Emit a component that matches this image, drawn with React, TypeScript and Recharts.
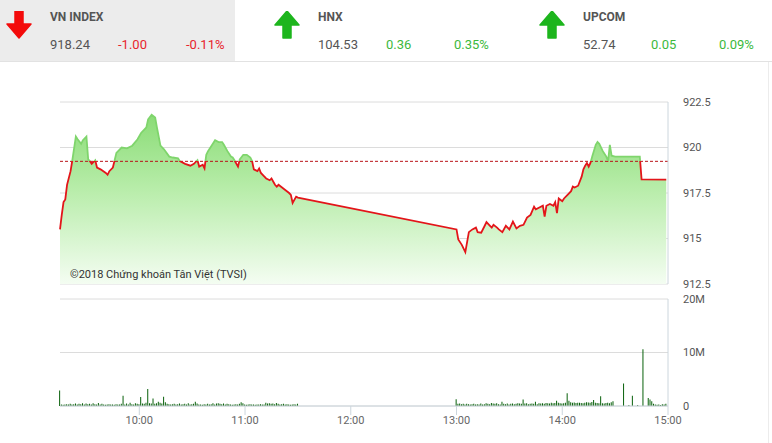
import React from "react";
import {
  Area,
  Bar,
  CartesianGrid,
  ComposedChart,
  Line,
  ReferenceLine,
  XAxis,
  YAxis,
} from "recharts";

// thời gian tính bằng phút kể từ 9:00
const priceMinutes = [
  15, 16, 17, 18, 19, 21, 22, 24, 25, 27, 28, 30, 31, 32, 33, 35, 36, 38, 41, 42, 43, 45, 46, 47, 50, 53, 56, 59, 61, 64,
  65, 67, 69, 70, 72, 74, 77, 79, 82, 83, 86, 89, 91, 93, 94, 96, 97, 98, 99, 101, 103, 105, 107, 108, 110, 112, 113, 114,
  116, 117, 119, 121, 123, 124, 125, 127, 128, 129, 131, 132, 134, 135, 137, 138, 139, 141, 143, 145, 146, 147, 149, 150,
  240, 241, 243, 245, 247, 249, 251, 252, 254, 256, 257, 259, 260, 261, 263, 264, 266, 268, 270, 272, 274, 276, 278, 280,
  282, 284, 285, 287, 289, 290, 291, 293, 295, 296, 297, 298, 300, 301, 303, 305, 306, 307, 309, 311, 312, 313, 314, 315,
  316, 317, 319, 320, 321, 323, 325, 326, 327, 328, 330, 344, 345, 359,
];

const priceValues = [
  915.5, 916.3, 917.0, 917.15, 917.95, 918.7, 919.3, 920.6, 920.45, 920.2, 920.4, 920.6, 919.35, 919.25, 919.1, 919.3,
  918.9, 918.8, 918.6, 918.5, 918.7, 918.9, 919.3, 919.7, 920.0, 919.95, 920.1, 920.45, 920.8, 921.1, 921.55, 921.8,
  921.65, 921.1, 920.1, 919.9, 919.5, 919.45, 919.4, 919.25, 919.1, 919.0, 919.1, 919.3, 918.95, 919.05, 918.85, 919.6,
  919.8, 920.1, 920.4, 920.3, 920.3, 920.15, 919.8, 919.5, 919.45, 919.3, 918.95, 919.35, 919.6, 919.6, 919.45, 919.25,
  918.8, 918.7, 918.85, 918.6, 918.4, 918.3, 918.2, 918.3, 917.95, 917.85, 917.95, 917.8, 917.65, 917.5, 917.4, 916.95,
  917.3, 917.25,
  915.5, 914.95, 914.65, 914.25, 915.35, 915.5, 915.6, 915.35, 915.32, 915.7, 915.9, 915.7, 915.6, 915.75, 915.6, 915.5,
  915.35, 915.7, 915.5, 915.93, 915.55, 915.7, 915.75, 916.15, 916.3, 916.75, 916.6, 916.7, 916.8, 916.2, 916.8, 916.9,
  916.8, 917.0, 916.4, 917.2, 917.05, 917.2, 917.4, 917.6, 917.85, 917.8, 917.9, 918.4, 918.8, 919.0, 919.15, 918.95,
  919.15, 919.5, 920.15, 920.3, 920.2, 919.8, 919.5, 919.25, 920.15, 919.55, 919.5, 919.5, 918.25, 918.24,
];

const refPrice = 919.24;
const priceTicks = [912.5, 915, 917.5, 920, 922.5];

// khối lượng (triệu cp) mỗi phút: 9:15-11:30 và 13:00-14:59
const morningStart = 15;
const morningVolumes = [
  2.9,
  0.3, 0.25, 0.3, 0.35, 0.3, 0.4, 0.3, 0.35, 0.45,
  0.3, 0.4, 0.35, 0.5, 0.3, 0.45, 0.35, 0.4, 0.3, 0.5,
  0.35, 0.3, 0.55, 0.3, 0.4, 0.3, 0.25, 0.3, 0.35, 0.3,
  0.3, 0.25, 0.35, 0.3, 0.3, 0.4, 1.9, 0.3, 0.45, 0.3,
  0.6, 0.35, 0.3, 0.5, 0.4, 0.35, 1.7, 0.45, 0.4, 0.6,
  3.2, 0.5, 0.45, 1.4, 0.4, 0.5, 0.8, 0.6, 0.45, 1.75,
  0.7, 0.4, 0.35, 0.3, 0.35, 0.4, 0.3, 0.35, 0.45, 0.3,
  0.35, 0.4, 0.3, 0.5, 0.3, 0.35, 0.4, 0.8, 0.45, 0.3,
  0.3, 0.25, 0.35, 0.3, 0.4, 0.3, 0.35, 0.5, 0.3, 0.45,
  0.5, 0.4, 0.35, 0.45, 0.3, 0.4, 0.35, 0.3, 0.25, 0.3,
  0.35, 0.3, 0.4, 0.7, 0.5, 0.3, 0.25, 0.3, 0.35, 0.3,
  0.3, 0.25, 0.3, 0.3, 0.35, 0.3, 0.3, 0.6, 0.45, 0.5,
  0.4, 0.45, 0.35, 0.55, 0.4, 0.3, 0.35, 0.4, 0.3, 0.35,
  0.3, 0.25, 0.3, 0.35, 0.3, 0.4,
];
const afternoonStart = 240;
const afternoonVolumes = [
  1.25, 0.4, 0.45, 0.35, 0.4, 0.3, 0.4, 0.35, 0.3, 0.35,
  0.4, 0.3, 0.35, 0.3, 0.45, 0.3, 0.35, 0.5, 0.4, 0.35,
  0.55, 0.45, 0.4, 0.5, 0.35, 0.3, 0.8, 0.4, 0.35, 0.45,
  0.3, 0.4, 0.45, 0.35, 0.4, 0.5, 0.45, 0.4, 1.2, 0.45,
  0.5, 0.35, 0.4, 0.45, 0.4, 0.8, 0.35, 0.5, 0.45, 0.5,
  0.4, 0.55, 0.5, 0.45, 0.6, 0.5, 0.55, 1.0, 0.6, 0.5,
  0.45, 0.5, 0.6, 2.4, 1.0, 0.7, 0.6, 0.65, 0.55, 0.6,
  0.6, 0.55, 0.5, 0.6, 0.7, 0.65, 0.6, 0.75, 1.1, 0.6,
  0.55, 0.5, 1.8, 0.5, 0.45, 0.55, 0.6, 0.5, 0.7, 0.9,
  0, 0, 0, 0, 0, 4.2, 0, 0, 0.2, 0,
  1.9, 0, 0, 0.2, 0, 0, 10.6, 0, 0, 1.5,
  1.2, 0.9, 0.4, 0.3, 0.25, 0.3, 0.2, 0.35, 0.3, 0.4,
];
const volumeTicks = [0, 10, 20];
const timeTicks = [60, 120, 180, 240, 300, 360];

const indexNames = ["VN INDEX", "HNX", "UPCOM"];
const indexValues = ["918.24", "104.53", "52.74"];
const indexChanges = ["-1.00", "0.36", "0.05"];
const indexPercents = ["-0.11%", "0.35%", "0.09%"];

const W = 772;
const PRICE_H = 200;
const PRICE_TOP = 10;
const PRICE_PLOT_H = 182;
const FONT = "Roboto, 'Noto Sans', sans-serif";

const priceData = priceMinutes.map((t, i) => ({ t, v: priceValues[i] }));
const volumeData = [
  ...morningVolumes.map((vol, i) => ({ t: morningStart + i, vol })),
  ...afternoonVolumes.map((vol, i) => ({ t: afternoonStart + i, vol })),
];

// toạ độ y (px) trong svg của biểu đồ giá
const yOf = (v: number) => PRICE_TOP + ((922.5 - v) / 10) * PRICE_PLOT_H;

function Arrow({ up, color, x }: { up: boolean; color: string; x: number }) {
  const d = up
    ? "M9,27 H17 V14 H25 L13,0 L1,14 H9 Z"
    : "M9,0 H17 V13 H25 L13,27 L1,13 H9 Z";
  return (
    <svg width={26} height={28} style={{ position: "absolute", left: x, top: 11 }}>
      <path d={d} fill={color} stroke={color} strokeWidth={1.5} strokeLinejoin="round" />
    </svg>
  );
}

function Header() {
  const offsets = [0, 268, 533];
  return (
    <div style={{ position: "absolute", left: 0, top: 0, width: W, height: 61, borderBottom: "1px solid #e2e2e2" }}>
      <div style={{ position: "absolute", left: 0, top: 0, width: 235, height: 61, background: "#ececec" }} />
      {indexNames.map((name, i) => {
        const x = offsets[i];
        const down = indexChanges[i].startsWith("-");
        const c = down ? "#e8242c" : "#3cb93c";
        return (
          <React.Fragment key={name}>
            <Arrow up={!down} color={down ? "#f30b0b" : "#1db51d"} x={x + 6} />
            <div style={{ position: "absolute", left: x + 50, top: 10, fontSize: 12, fontWeight: 700, color: "#555", lineHeight: "14px" }}>
              {name}
            </div>
            <div style={{ position: "absolute", left: x + 50, top: 37, fontSize: 13, color: "#555", lineHeight: "15px" }}>
              {indexValues[i]}
            </div>
            <div style={{ position: "absolute", left: x + 118, top: 37, fontSize: 13, color: c, lineHeight: "15px" }}>
              {indexChanges[i]}
            </div>
            <div style={{ position: "absolute", left: x + 186, top: 37, fontSize: 13, color: c, lineHeight: "15px" }}>
              {indexPercents[i]}
            </div>
          </React.Fragment>
        );
      })}
    </div>
  );
}

export default function App() {
  const refY = yOf(refPrice);
  const maxY = yOf(Math.max(...priceValues));
  const bottomY = PRICE_TOP + PRICE_PLOT_H;

  return (
    <div style={{ position: "absolute", left: 0, top: 0, width: W, height: 443, background: "#fff", fontFamily: FONT, overflow: "hidden" }}>
      <Header />
      <div style={{ position: "absolute", left: 768, top: 62, width: 1, height: 381, background: "#ececec" }} />

      <div style={{ position: "absolute", left: 0, top: 92 }}>
        <ComposedChart width={W} height={PRICE_H} data={priceData} margin={{ top: PRICE_TOP, right: 14, bottom: 8, left: 60 }}>
          <defs>
            <linearGradient id="priceFill" gradientUnits="userSpaceOnUse" x1={0} x2={0} y1={maxY} y2={bottomY}>
              <stop offset="0%" stopColor="#8adc76" />
              <stop offset="45%" stopColor="#b9edab" />
              <stop offset="100%" stopColor="#f4fdf2" />
            </linearGradient>
            <linearGradient id="priceStroke" gradientUnits="userSpaceOnUse" x1={0} x2={0} y1={0} y2={PRICE_H}>
              <stop offset={refY / PRICE_H} stopColor="#7fd56c" />
              <stop offset={refY / PRICE_H} stopColor="#e3151a" />
            </linearGradient>
          </defs>
          <CartesianGrid vertical={false} stroke="#dcdcdc" />
          <XAxis type="number" dataKey="t" domain={[15, 360]} hide />
          <YAxis
            orientation="right"
            domain={[912.5, 922.5]}
            ticks={priceTicks}
            width={90}
            axisLine={{ stroke: "#ccd6dd" }}
            tickLine={false}
            tickSize={6}
            tickMargin={9}
            tick={{ fill: "#555", fontSize: 11, fontFamily: FONT }}
            tickFormatter={(v: number) => String(v)}
          />
          <Area dataKey="v" type="linear" baseValue={912.5} stroke="none" fill="url(#priceFill)" fillOpacity={1} isAnimationActive={false} />
          <ReferenceLine y={refPrice} stroke="#b8141a" strokeDasharray="3 2" />
          <Line dataKey="v" type="linear" stroke="url(#priceStroke)" strokeWidth={1.8} dot={false} isAnimationActive={false} />
        </ComposedChart>
        <div style={{ position: "absolute", left: 70, top: 176, fontSize: 11, color: "#333" }}>
          ©2018 Chứng khoán Tân Việt (TVSI)
        </div>
      </div>

      <div style={{ position: "absolute", left: 0, top: 289 }}>
        <ComposedChart width={W} height={150} data={volumeData} margin={{ top: 10, right: 14, bottom: 8, left: 60 }}>
          <CartesianGrid vertical={false} stroke="#dcdcdc" />
          <XAxis
            type="number"
            dataKey="t"
            domain={[15, 360]}
            ticks={timeTicks}
            height={25}
            axisLine={{ stroke: "#ccd6dd" }}
            tickLine={{ stroke: "#ccd6dd" }}
            tickSize={9}
            tickMargin={1}
            tick={{ fill: "#666", fontSize: 11, fontFamily: FONT }}
            tickFormatter={(t: number) => `${9 + t / 60}:00`}
          />
          <YAxis
            orientation="right"
            domain={[0, 20]}
            ticks={volumeTicks}
            width={90}
            axisLine={{ stroke: "#ccd6dd" }}
            tickLine={false}
            tickSize={6}
            tickMargin={9}
            tick={{ fill: "#555", fontSize: 11, fontFamily: FONT }}
            tickFormatter={(v: number) => (v === 0 ? "0" : `${v}M`)}
          />
          <Bar dataKey="vol" fill="#08600a" barSize={1} isAnimationActive={false} />
        </ComposedChart>
      </div>
    </div>
  );
}
